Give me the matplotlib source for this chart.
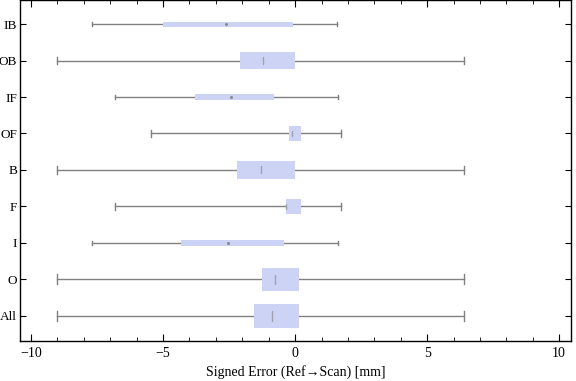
import matplotlib.pyplot as plt
from matplotlib.ticker import MultipleLocator

plt.rcParams['font.family'] = ['Liberation Serif', 'DejaVu Serif']

# categories listed bottom -> top
labels = ["All", "O", "I", "F", "B", "OF", "IF", "OB", "IB"]
wlo = [-9.0, -9.0, -7.68, -6.81, -9.0, -5.47, -6.82, -9.0, -7.69]
q1 = [-1.55, -1.25, -4.32, -0.34, -2.20, -0.23, -3.79, -2.08, -5.00]
med = [-0.88, -0.75, -2.53, -0.33, -1.30, -0.10, -2.42, -1.21, -2.61]
q3 = [0.15, 0.15, -0.43, 0.23, 0.0, 0.23, -0.80, 0.0, -0.08]
whi = [6.41, 6.41, 1.62, 1.72, 6.41, 1.72, 1.62, 6.41, 1.58]
# relative box thickness (as drawn)
thick = [0.65, 0.62, 0.18, 0.40, 0.48, 0.40, 0.14, 0.48, 0.14]

boxColor = "#ccd3f5"
lineColor = "#808080"

fig = plt.figure(figsize=(5.76, 3.81), dpi=100)
ax = fig.add_axes([20/576, 40/381, 551/576, 341/381])

for i, lab in enumerate(labels):
    y = i + 1
    h = thick[i]
    cap = max(h * 0.45, 0.1)
    ax.plot([wlo[i], whi[i]], [y, y], color=lineColor, lw=1, zorder=1)
    ax.plot([wlo[i], wlo[i]], [y - cap/2, y + cap/2], color=lineColor, lw=1, zorder=1)
    ax.plot([whi[i], whi[i]], [y - cap/2, y + cap/2], color=lineColor, lw=1, zorder=1)
    ax.barh(y, q3[i] - q1[i], left=q1[i], height=h, color=boxColor, zorder=2)
    if h > 0.3:
        ax.plot([med[i], med[i]], [y - h*0.2, y + h*0.2], color="#a0a0b0", lw=1.0,
                solid_capstyle="round", zorder=3)
    else:
        ax.plot(med[i], y, marker="o", ms=2.2, color="#8a8a90", mec="none", zorder=3)

ax.set_xlim(-10.42, 10.45)
ax.set_ylim(0.31, 9.66)
ax.set_yticks(range(1, len(labels) + 1))
ax.set_yticklabels(labels)
ax.set_xticks([-10, -5, 0, 5, 10])
ax.set_xticklabels(["\u221210", "\u22125", "0", "5", "10"])
ax.xaxis.set_minor_locator(MultipleLocator(1))
ax.tick_params(axis="both", which="both", direction="in", top=True, right=True,
               labelsize=10)
ax.tick_params(axis="x", which="major", length=5, pad=4)
ax.tick_params(axis="x", which="minor", length=3)
ax.tick_params(axis="y", which="major", length=4, pad=2, labelsize=9.5)
ax.set_xlabel("Signed Error (Ref\u2192Scan) [mm]", fontsize=10, labelpad=4)
for s in ax.spines.values():
    s.set_linewidth(1)

fig.savefig("out.png", dpi=100)
